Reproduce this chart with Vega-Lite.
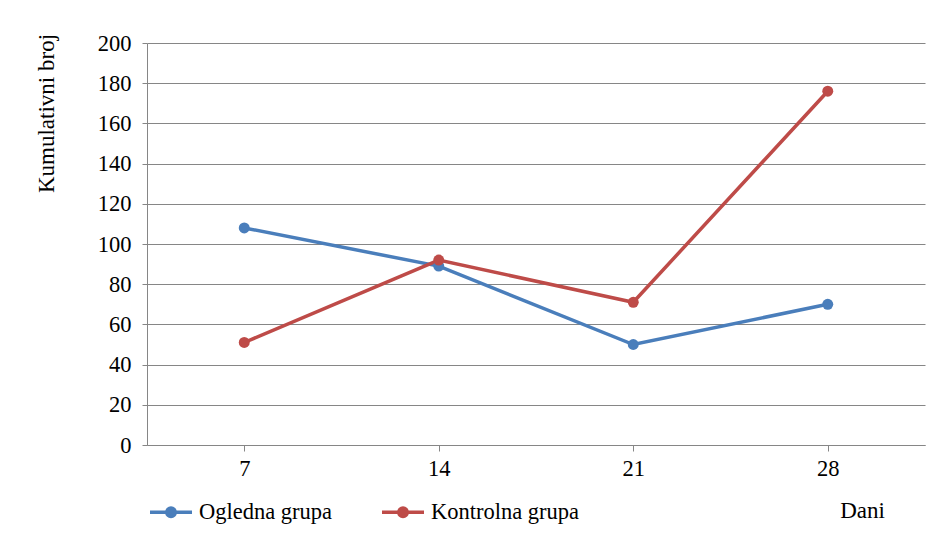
{
  "$schema": "https://vega.github.io/schema/vega-lite/v6.json",
  "width": 778,
  "height": 402,
  "autosize": {"type": "none"},
  "padding": {"left": 147, "top": 43, "right": 22, "bottom": 90},
  "background": "white",
  "data": {
    "values": [
      {"dan": "7", "grupa": "Ogledna grupa", "broj": 108},
      {"dan": "14", "grupa": "Ogledna grupa", "broj": 89},
      {"dan": "21", "grupa": "Ogledna grupa", "broj": 50},
      {"dan": "28", "grupa": "Ogledna grupa", "broj": 70},
      {"dan": "7", "grupa": "Kontrolna grupa", "broj": 51},
      {"dan": "14", "grupa": "Kontrolna grupa", "broj": 92},
      {"dan": "21", "grupa": "Kontrolna grupa", "broj": 71},
      {"dan": "28", "grupa": "Kontrolna grupa", "broj": 176}
    ]
  },
  "config": {
    "font": "Liberation Serif",
    "view": {"stroke": null},
    "axis": {
      "labelFont": "Liberation Serif",
      "titleFont": "Liberation Serif",
      "labelFontSize": 22.5,
      "titleFontSize": 23,
      "labelColor": "#000000",
      "titleColor": "#000000",
      "titleFontWeight": "normal",
      "domainColor": "#868686",
      "tickColor": "#868686",
      "gridColor": "#868686",
      "domainWidth": 1,
      "gridWidth": 1
    },
    "legend": {
      "labelFont": "Liberation Serif",
      "labelFontSize": 22.5,
      "labelColor": "#000000"
    }
  },
  "mark": {"type": "line", "strokeWidth": 3.5, "point": {"size": 120, "filled": true, "opacity": 1}},
  "encoding": {
    "x": {
      "field": "dan",
      "type": "ordinal",
      "sort": ["7", "14", "21", "28"],
      "scale": {"type": "point", "padding": 0.5},
      "axis": {
        "title": "Dani",
        "labelAngle": 0,
        "tickSize": 6,
        "labelPadding": 6,
        "grid": false,
        "titleX": 715,
        "titleY": 65,
        "titleAlign": "center",
        "titleBaseline": "middle",
        "titleAnchor": null
      }
    },
    "y": {
      "field": "broj",
      "type": "quantitative",
      "scale": {"domain": [0, 200], "nice": false},
      "axis": {
        "title": "Kumulativni broj",
        "values": [0, 20, 40, 60, 80, 100, 120, 140, 160, 180, 200],
        "tickSize": 5,
        "labelPadding": 11,
        "grid": true,
        "titleX": -101,
        "titleY": 70,
        "titleAngle": -90,
        "titleAlign": "center",
        "titleBaseline": "middle",
        "titleAnchor": null
      }
    },
    "color": {
      "field": "grupa",
      "type": "nominal",
      "sort": ["Ogledna grupa", "Kontrolna grupa"],
      "scale": {"domain": ["Ogledna grupa", "Kontrolna grupa"], "range": ["#4A7EBB", "#BE4B48"]},
      "legend": {
        "title": null,
        "orient": "none",
        "direction": "horizontal",
        "legendX": 1,
        "legendY": 446,
        "symbolType": "M-1,0L1,0M-0.2,0A0.2,0.2 0 1,1 0.2,0A0.2,0.2 0 1,1 -0.2,0Z",
        "symbolSize": 1764,
        "symbolStrokeWidth": 3.5,
        "symbolOpacity": 1,
        "labelOffset": 5,
        "columnPadding": 42
      }
    }
  }
}
